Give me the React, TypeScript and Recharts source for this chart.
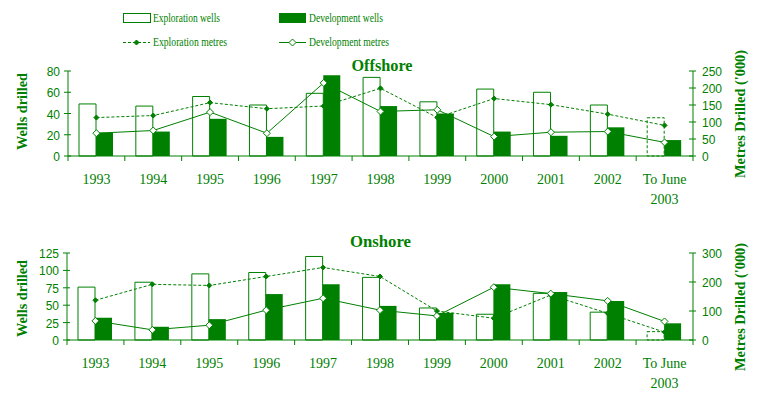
import { ComposedChart, Bar, Line, XAxis, YAxis, Cell } from 'recharts'

const GREEN = '#008000'
const SERIF = '"Liberation Serif", "Times New Roman", serif'
const SANS = '"Liberation Sans", Arial, sans-serif'

const years = ['1993', '1994', '1995', '1996', '1997', '1998', '1999', '2000', '2001', '2002', 'To June\n2003']

// offshore
const offshoreExplWells = [49, 47, 56, 48, 59, 74, 51, 63, 60, 48, 36]
const offshoreDevWells = [22, 23, 35, 18, 76, 47, 40, 23, 19, 27, 15]
const offshoreExplMetres = [113, 119, 157, 139, 147, 199, 113, 169, 151, 123, 90]
const offshoreDevMetres = [67, 75, 129, 67, 215, 131, 136, 57, 70, 72, 40]

// onshore
const onshoreExplWells = [76, 83, 95, 97, 120, 90, 46, 37, 67, 40, 12]
const onshoreDevWells = [32, 19, 30, 66, 80, 49, 39, 80, 69, 56, 24]
const onshoreExplMetres = [137, 192, 188, 219, 250, 219, 100, 75, 155, 92, 27]
const onshoreDevMetres = [66, 35, 51, 103, 144, 103, 83, 182, 160, 135, 64]

const offshoreWellTicks = [0, 20, 40, 60, 80]
const offshoreMetreTicks = [0, 50, 100, 150, 200, 250]
const onshoreWellTicks = [0, 25, 50, 75, 100, 125]
const onshoreMetreTicks = [0, 100, 200, 300]

function buildRows(explWells: number[], devWells: number[], explMetres: number[], devMetres: number[]) {
  return years.map((year, i) => ({
    year,
    explWells: explWells[i],
    devWells: devWells[i],
    explMetres: explMetres[i],
    devMetres: devMetres[i],
  }))
}

const offshoreData = buildRows(offshoreExplWells, offshoreDevWells, offshoreExplMetres, offshoreDevMetres)
const onshoreData = buildRows(onshoreExplWells, onshoreDevWells, onshoreExplMetres, onshoreDevMetres)

function diamond(cx: number, cy: number, r: number) {
  return `${cx},${cy - r} ${cx + r},${cy} ${cx},${cy + r} ${cx - r},${cy}`
}

function diamondDot(r: number, fill: string) {
  return (props: any) => {
    const { cx, cy, index } = props
    if (cx == null || cy == null) return <g key={index} />
    return <polygon key={index} points={diamond(cx, cy, r)} fill={fill} stroke={GREEN} strokeWidth={1} />
  }
}

function YearTick(props: any) {
  const { x, y, payload, band, last } = props
  const lines = String(payload.value).split('\n')
  const left = x - band / 2
  return (
    <g>
      <line x1={left} x2={left} y1={y} y2={y + 5} stroke={GREEN} />
      {last && <line x1={x + band / 2} x2={x + band / 2} y1={y} y2={y + 5} stroke={GREEN} />}
      {lines.map((t, i) => (
        <text key={i} x={x} y={y + 28 + i * 20} textAnchor="middle" fill={GREEN} fontFamily={SERIF} fontSize={14}>
          {t}
        </text>
      ))}
    </g>
  )
}

function ValueTick(props: any) {
  const { x, y, payload, align } = props
  const isLeft = align === 'left'
  return (
    <g>
      <line x1={x - 4} x2={x + 3} y1={y} y2={y} stroke={GREEN} />
      <text
        x={isLeft ? x - 8 : x + 9}
        y={y + 5}
        textAnchor={isLeft ? 'end' : 'start'}
        fill={GREEN}
        fontFamily={SANS}
        fontSize={12}
      >
        {payload.value}
      </text>
    </g>
  )
}

type PanelProps = {
  data: ReturnType<typeof buildRows>
  height: number
  top: number
  xHeight: number
  leftWidth: number
  wellDomain: number[]
  wellTicks: number[]
  metreDomain: number[]
  metreTicks: number[]
}

function Panel({ data, height, top, xHeight, leftWidth, wellDomain, wellTicks, metreDomain, metreTicks }: PanelProps) {
  const rightWidth = 86
  const band = (779 - leftWidth - rightWidth) / data.length
  const lastYear = data[data.length - 1].year
  return (
    <ComposedChart width={779} height={height} data={data} barGap={0} margin={{ top, right: 0, bottom: 0, left: 0 }}>
      <XAxis
        dataKey="year"
        height={xHeight}
        interval={0}
        tickSize={0}
        tickMargin={0}
        tickLine={false}
        axisLine={{ stroke: GREEN }}
        tick={(p: any) => <YearTick {...p} band={band} last={p.payload.value === lastYear} />}
      />
      <YAxis
        yAxisId="wells"
        width={leftWidth}
        domain={wellDomain}
        ticks={wellTicks}
        interval={0}
        tickSize={0}
        tickMargin={0}
        tickLine={false}
        axisLine={{ stroke: GREEN }}
        tick={<ValueTick align="left" />}
      />
      <YAxis
        yAxisId="metres"
        orientation="right"
        width={rightWidth}
        domain={metreDomain}
        ticks={metreTicks}
        interval={0}
        tickSize={0}
        tickMargin={0}
        tickLine={false}
        axisLine={{ stroke: GREEN }}
        tick={<ValueTick align="right" />}
      />
      <Bar yAxisId="wells" dataKey="explWells" barSize={17} fill="#ffffff" stroke={GREEN} strokeWidth={1} isAnimationActive={false}>
        {data.map((d, i) => (
          <Cell key={i} strokeDasharray={i === data.length - 1 ? '3 2' : undefined} />
        ))}
      </Bar>
      <Bar yAxisId="wells" dataKey="devWells" barSize={17} fill={GREEN} isAnimationActive={false} />
      <Line
        yAxisId="metres"
        dataKey="explMetres"
        type="linear"
        stroke={GREEN}
        strokeWidth={1}
        strokeDasharray="3 2"
        dot={diamondDot(2.5, GREEN)}
        activeDot={false}
        isAnimationActive={false}
      />
      <Line
        yAxisId="metres"
        dataKey="devMetres"
        type="linear"
        stroke={GREEN}
        strokeWidth={1}
        dot={diamondDot(3.5, '#ffffff')}
        activeDot={false}
        isAnimationActive={false}
      />
    </ComposedChart>
  )
}

function VerticalTitle({ x, y, text, length }: { x: number; y: number; text: string; length: number }) {
  return (
    <text
      x={x}
      y={y}
      transform={`rotate(-90 ${x} ${y})`}
      textAnchor="middle"
      dominantBaseline="central"
      fill={GREEN}
      fontFamily={SERIF}
      fontWeight="bold"
      fontSize={14}
      textLength={length}
      lengthAdjust="spacingAndGlyphs"
    >
      {text}
    </text>
  )
}

function Overlay() {
  const legendText = { fill: GREEN, fontFamily: SERIF, fontSize: 13 }
  return (
    <svg width={779} height={403} style={{ position: 'absolute', left: 0, top: 0 }}>
      <rect x={123.5} y={13.5} width={27} height={9} fill="#ffffff" stroke={GREEN} />
      <text x={153} y={22} {...legendText} textLength={67} lengthAdjust="spacingAndGlyphs">Exploration wells</text>
      <rect x={279} y={13} width={27} height={10} fill={GREEN} />
      <text x={309} y={22} {...legendText} textLength={74} lengthAdjust="spacingAndGlyphs">Development wells</text>

      <line x1={123} x2={150} y1={42.5} y2={42.5} stroke={GREEN} strokeDasharray="3 2" />
      <polygon points={diamond(136.5, 42.5, 2.5)} fill={GREEN} stroke={GREEN} />
      <text x={153} y={46} {...legendText} textLength={74} lengthAdjust="spacingAndGlyphs">Exploration metres</text>
      <line x1={279} x2={306} y1={42.5} y2={42.5} stroke={GREEN} />
      <polygon points={diamond(292.5, 42.5, 3.5)} fill="#ffffff" stroke={GREEN} />
      <text x={309} y={46} {...legendText} textLength={80} lengthAdjust="spacingAndGlyphs">Development metres</text>

      <text x={382} y={71} textAnchor="middle" fill={GREEN} fontFamily={SERIF} fontWeight="bold" fontSize={16} textLength={61} lengthAdjust="spacingAndGlyphs">Offshore</text>
      <text x={380.5} y={247} textAnchor="middle" fill={GREEN} fontFamily={SERIF} fontWeight="bold" fontSize={16} textLength={61} lengthAdjust="spacingAndGlyphs">Onshore</text>

      <VerticalTitle x={22.5} y={111.5} text="Wells drilled" length={77} />
      <VerticalTitle x={22.5} y={298.5} text="Wells drilled" length={77} />
      <VerticalTitle x={740} y={114} text="Metres Drilled ('000)" length={128} />
      <VerticalTitle x={740} y={307} text="Metres Drilled ('000)" length={128} />
    </svg>
  )
}

export default function App() {
  return (
    <div style={{ position: 'absolute', left: 0, top: 0, width: 779, height: 403, background: '#ffffff' }}>
      <div style={{ position: 'absolute', left: 0, top: 0 }}>
        <Panel
          data={offshoreData}
          height={215}
          top={71}
          xHeight={59}
          leftWidth={68}
          wellDomain={[0, 80]}
          wellTicks={offshoreWellTicks}
          metreDomain={[0, 250]}
          metreTicks={offshoreMetreTicks}
        />
      </div>
      <div style={{ position: 'absolute', left: 0, top: 200 }}>
        <Panel
          data={onshoreData}
          height={203}
          top={53}
          xHeight={63}
          leftWidth={67}
          wellDomain={[0, 125]}
          wellTicks={onshoreWellTicks}
          metreDomain={[0, 300]}
          metreTicks={onshoreMetreTicks}
        />
      </div>
      <Overlay />
    </div>
  )
}
